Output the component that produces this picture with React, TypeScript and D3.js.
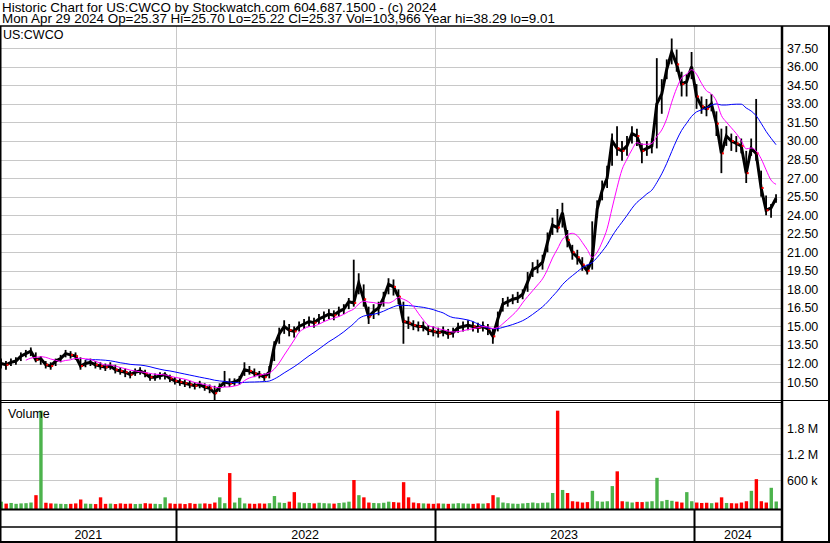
import React from 'react';
import * as d3 from 'd3';

const headerLine1 = "Historic Chart for US:CWCO by Stockwatch.com 604.687.1500 - (c) 2024";
const headerLine2 = "Mon Apr 29 2024 Op=25.37 Hi=25.70 Lo=25.22 Cl=25.37 Vol=103,966 Year hi=38.29 lo=9.01";
const symbolLabel = "US:CWCO";
const volumeLabel = "Volume";

// weekly samples starting 2021-04-30
const weekClose = [
  12.0, 11.9, 12.1, 12.2, 12.6, 12.8, 13.0, 12.3, 12.4, 11.9,
  11.8, 12.2, 12.4, 12.8, 12.7, 12.6, 11.8, 12.0, 12.1, 11.9,
  11.8, 11.7, 11.8, 11.5, 11.4, 11.3, 11.1, 11.3, 11.4, 11.2,
  10.9, 10.9, 11.0, 11.1, 10.8, 10.6, 10.5, 10.4, 10.3, 10.2,
  10.3, 10.1, 10.0, 9.6, 10.1, 10.5, 10.4, 10.5, 10.7, 11.5,
  11.4, 11.2, 11.1, 10.9, 11.3, 13.4, 14.4, 15.0, 14.7, 14.6,
  15.0, 15.2, 15.4, 15.3, 15.6, 15.8, 16.0, 15.9, 16.2, 16.4,
  17.0, 16.9, 18.5, 17.2, 15.8, 16.2, 16.5, 17.3, 18.4, 18.2,
  17.4, 15.4, 15.3, 15.1, 15.0, 15.0, 14.7, 14.6, 14.5, 14.6,
  14.4, 14.5, 14.9, 15.0, 15.1, 15.0, 14.9, 15.0, 14.8, 14.2,
  15.6, 16.8, 17.0, 17.2, 17.3, 17.6, 18.6, 19.6, 19.8, 20.2,
  21.8, 23.2, 23.0, 24.2, 22.0, 21.0, 20.6, 20.0, 19.5, 20.4,
  24.5, 26.0, 27.0, 30.0, 29.4, 29.2, 29.6, 30.6, 30.4, 29.2,
  29.4, 29.6, 33.0, 33.8, 35.8, 37.2, 36.2, 34.6, 34.8, 36.0,
  33.6, 32.8, 32.6, 33.0, 31.4, 29.0, 30.4, 30.0, 29.8, 29.6,
  27.4, 29.4, 29.0, 26.2, 24.4, 24.6, 25.37,
];
const weekHigh = [
  12.4, 12.2, 12.4, 12.5, 12.9, 13.1, 13.3, 12.9, 12.6, 12.2,
  12.1, 12.4, 12.7, 13.1, 13.0, 12.9, 12.5, 12.3, 12.4, 12.2,
  12.1, 12.0, 12.1, 11.9, 11.7, 11.6, 11.4, 11.6, 11.7, 11.5,
  11.2, 11.2, 11.3, 11.3, 11.1, 10.9, 10.8, 10.7, 10.6, 10.5,
  10.6, 10.4, 10.3, 10.2, 10.4, 11.4, 10.8, 10.8, 11.0, 12.1,
  11.8, 11.6, 11.4, 11.2, 11.8, 13.8, 14.9, 15.5, 15.2, 15.0,
  15.4, 15.6, 15.8, 15.7, 16.0, 16.2, 16.4, 16.3, 16.6, 16.8,
  17.3, 20.4, 19.3, 18.4, 16.6, 16.8, 17.0, 17.8, 18.9, 18.8,
  18.0, 17.0, 15.8, 15.5, 15.4, 15.4, 15.1, 15.0, 14.9, 15.0,
  14.8, 14.9, 15.3, 15.4, 15.5, 15.4, 15.3, 15.4, 15.2, 14.8,
  16.2, 17.3, 17.4, 17.6, 17.8, 18.0, 19.4, 20.2, 20.4, 20.8,
  22.6, 23.8, 24.5, 25.0, 22.8, 21.6, 21.2, 20.6, 20.0, 23.5,
  25.2, 26.8, 28.0, 30.6, 31.2, 30.0, 30.4, 31.2, 31.0, 29.8,
  30.0, 30.2, 36.7, 35.0, 36.6, 38.29, 37.4, 35.6, 35.4, 37.2,
  34.6, 33.6, 33.4, 33.8, 32.4, 31.0, 31.2, 30.6, 30.4, 30.2,
  29.2, 30.2, 33.4, 27.6, 25.6, 24.9, 25.70,
];
const weekLow = [
  11.6, 11.5, 11.8, 11.9, 12.2, 12.5, 12.6, 12.1, 11.9, 11.6,
  11.5, 11.8, 12.1, 12.5, 12.4, 12.3, 11.5, 11.7, 11.8, 11.6,
  11.5, 11.4, 11.5, 11.2, 11.1, 10.9, 10.8, 11.0, 11.1, 10.9,
  10.6, 10.6, 10.7, 10.7, 10.5, 10.3, 10.2, 10.1, 10.0, 9.9,
  10.0, 9.8, 9.6, 9.01, 9.7, 10.1, 10.1, 10.2, 10.3, 11.0,
  11.1, 10.9, 10.8, 10.6, 10.8, 12.2, 13.6, 14.4, 14.2, 14.1,
  14.6, 14.8, 15.0, 14.9, 15.2, 15.4, 15.6, 15.5, 15.8, 16.0,
  16.4, 16.6, 17.6, 16.6, 15.2, 15.6, 15.9, 16.6, 17.6, 17.5,
  16.8, 13.6, 14.8, 14.7, 14.6, 14.6, 14.3, 14.2, 14.1, 14.2,
  14.0, 14.1, 14.5, 14.6, 14.7, 14.6, 14.5, 14.6, 14.3, 13.6,
  14.6, 16.2, 16.6, 16.8, 16.9, 17.2, 17.8, 19.0, 19.3, 19.6,
  21.0, 22.4, 22.6, 23.0, 21.4, 20.4, 20.0, 19.5, 19.2, 19.6,
  23.8, 25.2, 26.2, 28.0, 28.8, 28.4, 28.8, 29.8, 29.6, 28.2,
  28.8, 29.0, 29.4, 32.2, 35.0, 36.2, 35.6, 33.6, 33.6, 35.0,
  32.6, 32.2, 32.0, 32.4, 30.4, 27.4, 29.6, 29.2, 29.1, 29.0,
  26.6, 28.8, 28.4, 25.5, 24.0, 23.8, 25.0,
];
// weekly representative daily volume (shares)
const weekVolume = [
  100000, 55000, 70000, 50000, 60000, 65000, 80000, 250000, 2200000, 75000,
  60000, 55000, 50000, 45000, 50000, 60000, 150000, 55000, 50000, 45000,
  200000, 50000, 55000, 45000, 60000, 50000, 55000, 45000, 50000, 65000,
  55000, 50000, 45000, 200000, 60000, 50000, 55000, 45000, 65000, 50000,
  55000, 60000, 50000, 80000, 200000, 65000, 760000, 80000, 190000, 60000,
  55000, 50000, 60000, 55000, 65000, 230000, 80000, 70000, 100000, 320000,
  80000, 65000, 70000, 60000, 75000, 65000, 60000, 55000, 70000, 80000,
  100000, 600000, 250000, 200000, 80000, 70000, 65000, 75000, 100000, 90000,
  80000, 550000, 200000, 80000, 65000, 60000, 55000, 50000, 60000, 55000,
  50000, 55000, 65000, 60000, 55000, 50000, 60000, 55000, 65000, 250000,
  200000, 80000, 65000, 55000, 50000, 60000, 70000, 80000, 65000, 75000,
  80000, 300000, 2200000, 370000, 300000, 110000, 100000, 80000, 90000, 350000,
  110000, 100000, 110000, 460000, 800000, 110000, 100000, 80000, 95000, 90000,
  100000, 110000, 650000, 110000, 140000, 120000, 100000, 80000, 320000, 110000,
  80000, 70000, 75000, 65000, 80000, 200000, 70000, 65000, 60000, 80000,
  110000, 350000, 620000, 110000, 80000, 420000, 103966,
];

const priceTicks = [10.5, 12, 13.5, 15, 16.5, 18, 19.5, 21, 22.5, 24, 25.5, 27, 28.5, 30, 31.5, 33, 34.5, 36, 37.5];
const volumeTicks = [600000, 1200000, 1800000];
const volumeTickLabels = ["600 k", "1.2 M", "1.8 M"];
const yearStarts = ["2022-01-01", "2023-01-01", "2024-01-01"];
const yearLabels = ["2021", "2022", "2023", "2024"];
const shortMAPeriod = 6;   // ~30 trading days
const longMAPeriod = 18;   // ~90 trading days

const FONT = '"Liberation Sans", Arial, sans-serif';
const W = 830, H = 543;
const plotL = 1, plotR = 782;
const priceTop = 26, priceBottom = 400;
const volTop = 403, volBottom = 509;
const axisRowMid = 527, axisBottom = 541;

const parse = d3.timeParse("%Y-%m-%d");
const start = parse("2021-04-30") as Date;

function sma(vals: number[], n: number) {
  const out: { i: number; v: number }[] = [];
  for (let i = n - 1; i < vals.length; i++) {
    out.push({ i, v: d3.mean(vals.slice(i - n + 1, i + 1)) as number });
  }
  return out;
}

export default function App() {
  const x = d3.scaleTime().domain([start, parse("2024-05-03") as Date]).range([1, 781]);
  const weekDate = (i: number) => d3.timeDay.offset(start, 7 * i);
  const xi = (i: number) => x(weekDate(i));
  const y = d3.scaleLinear().domain([9.01, 38.29]).range([400.5, 38.5]);
  const yv = d3.scaleLinear().domain([0, 600000]).range([506, 480]);

  const closeLine = d3.line<number>().x((_, i) => xi(i)).y((d) => y(d))(weekClose) as string;
  const maLine = d3.line<{ i: number; v: number }>().x((d) => xi(d.i)).y((d) => y(d.v)).curve(d3.curveMonotoneX);
  const shortMA = maLine(sma(weekClose, shortMAPeriod)) as string;
  const longMA = maLine(sma(weekClose, longMAPeriod)) as string;

  const yearX = yearStarts.map((s) => x(parse(s) as Date));
  const bounds = [plotL, ...yearX, plotR];
  const grid = '#c8c8c8';

  return (
    <svg width={W} height={H} style={{ position: 'absolute', left: 0, top: 0, background: '#fff' }} fontFamily={FONT}>
      <rect x={0} y={0} width={W} height={H} fill="#fff" />
      <text x={2} y={11.7} fontSize={13.4} fill="#000">{headerLine1}</text>
      <text x={2} y={23.4} fontSize={13.4} fill="#000">{headerLine2}</text>

      {/* gridlines */}
      {priceTicks.map((t) => (
        <line key={'pg' + t} x1={plotL} x2={plotR} y1={Math.round(y(t)) + 0.5} y2={Math.round(y(t)) + 0.5} stroke={grid} />
      ))}
      {volumeTicks.map((t) => (
        <line key={'vg' + t} x1={plotL} x2={plotR} y1={Math.round(yv(t)) + 0.5} y2={Math.round(yv(t)) + 0.5} stroke={grid} />
      ))}
      {yearX.map((xx, k) => (
        <g key={'yg' + k}>
          <line x1={Math.round(xx) + 0.5} x2={Math.round(xx) + 0.5} y1={priceTop} y2={priceBottom} stroke={grid} />
          <line x1={Math.round(xx) + 0.5} x2={Math.round(xx) + 0.5} y1={volTop} y2={volBottom} stroke={grid} />
        </g>
      ))}

      {/* volume bars */}
      {weekVolume.map((v, i) => {
        const up = i === 0 || weekClose[i] >= weekClose[i - 1];
        const top = yv(v);
        return (
          <rect key={'v' + i} x={xi(i) - 1.5} y={top} width={3.4} height={volBottom - top}
            fill={up ? '#4cb34c' : '#ff0000'} />
        );
      })}

      {/* price bars */}
      {weekClose.map((c, i) => (
        <line key={'b' + i} x1={xi(i)} x2={xi(i)} y1={y(weekHigh[i])} y2={y(weekLow[i])} stroke="#000" strokeWidth={1.8} />
      ))}
      <path d={closeLine} fill="none" stroke="#000" strokeWidth={3} strokeLinejoin="miter" />
      {weekClose.map((c, i) =>
        i > 0 && c < weekClose[i - 1] ? (
          <rect key={'r' + i} x={xi(i) + 0.5} y={y(c) - 1} width={2} height={2} fill="#ff0000" />
        ) : null
      )}
      <path d={longMA} fill="none" stroke="#0000ff" strokeWidth={1} />
      <path d={shortMA} fill="none" stroke="#ff00ff" strokeWidth={1} />

      {/* labels in panels */}
      <text x={3} y={38.5} fontSize={12.5} fill="#000">{symbolLabel}</text>
      <text x={8} y={417.5} fontSize={12.5} fill="#000">{volumeLabel}</text>

      {/* axis labels */}
      {priceTicks.map((t) => (
        <text key={'pl' + t} x={787} y={y(t) + 4.5} fontSize={12.5} fill="#000">{d3.format('.2f')(t)}</text>
      ))}
      {volumeTicks.map((t, k) => (
        <text key={'vl' + t} x={787} y={yv(t) + 4.5} fontSize={12.5} fill="#000">{volumeTickLabels[k]}</text>
      ))}
      {yearLabels.map((lab, k) => (
        <text key={'yl' + k} x={(bounds[k] + bounds[k + 1]) / 2} y={539} fontSize={12.5} textAnchor="middle" fill="#000">{lab}</text>
      ))}

      {/* frame */}
      <line x1={0} x2={W} y1={26} y2={26} stroke="#000" strokeWidth={1.5} />
      <line x1={0.75} x2={0.75} y1={26} y2={H} stroke="#000" strokeWidth={1.5} />
      <line x1={W - 1} x2={W - 1} y1={26} y2={H} stroke="#000" strokeWidth={2} />
      <line x1={0} x2={W} y1={axisBottom + 1} y2={axisBottom + 1} stroke="#000" strokeWidth={2} />
      <line x1={plotR} x2={plotR} y1={26} y2={H} stroke="#000" strokeWidth={2.5} />
      <line x1={0} x2={W} y1={priceBottom + 0.5} y2={priceBottom + 0.5} stroke="#000" strokeWidth={1} />
      <line x1={0} x2={plotR} y1={volTop - 0.5} y2={volTop - 0.5} stroke="#000" strokeWidth={1} />
      <line x1={0} x2={plotR} y1={volBottom + 0.5} y2={volBottom + 0.5} stroke="#000" strokeWidth={2} />
      <line x1={0} x2={plotR} y1={axisRowMid} y2={axisRowMid} stroke="#000" strokeWidth={1.5} />
      {yearX.map((xx, k) => (
        <line key={'ys' + k} x1={Math.round(xx) + 0.5} x2={Math.round(xx) + 0.5} y1={volBottom} y2={axisBottom} stroke="#000" strokeWidth={2} />
      ))}
    </svg>
  );
}
